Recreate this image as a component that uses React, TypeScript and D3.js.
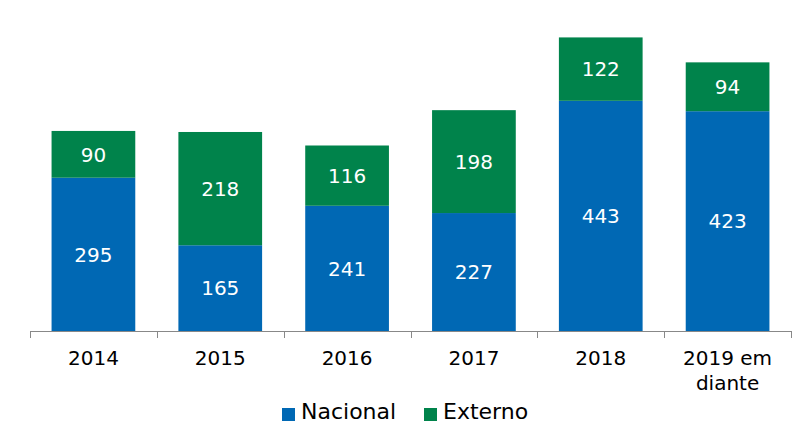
import React from "react";
import * as d3 from "d3";

const categories: string[][] = [["2014"], ["2015"], ["2016"], ["2017"], ["2018"], ["2019 em", "diante"]];
const nacional: number[] = [295, 165, 241, 227, 443, 423];
const externo: number[] = [90, 218, 116, 198, 122, 94];
const seriesNames = ["Nacional", "Externo"];
const colors = ["#0068B4", "#00834B"];

const W = 800, H = 445;
const FONT = "Verdana, 'DejaVu Sans', sans-serif";

export default function App() {
  const keys = categories.map((c) => c.join(" "));
  const x = d3.scaleBand<string>().domain(keys).range([30, 791]).paddingInner(0.34).paddingOuter(0.17);
  const y = d3.scaleLinear().domain([0, 637]).range([331, 0]);
  const rows = keys.map((k, i) => ({ key: k, Nacional: nacional[i], Externo: externo[i] }));
  const stack = d3.stack<any>().keys(seriesNames)(rows);
  const step = (791 - 30) / keys.length;
  const tickXs = d3.range(keys.length + 1).map((i) => 30 + i * step);

  return (
    <div style={{ position: "absolute", left: 0, top: 0 }}>
      <svg width={W} height={H} style={{ display: "block", background: "#fff" }}>
        {stack.map((s, si) => (
          <g key={si}>
            {s.map((d, i) => {
              const x0 = x(keys[i])!;
              const y0 = y(d[1]);
              const y1 = y(d[0]);
              return (
                <g key={i}>
                  <rect x={x0} y={y0} width={x.bandwidth()} height={y1 - y0} fill={colors[si]} />
                  <text
                    x={x0 + x.bandwidth() / 2}
                    y={(y0 + y1) / 2}
                    dy="0.36em"
                    textAnchor="middle"
                    fill="#fff"
                    fontSize={20}
                    fontFamily={FONT}
                  >
                    {d[1] - d[0]}
                  </text>
                </g>
              );
            })}
          </g>
        ))}
        <line x1={30} x2={791} y1={331.5} y2={331.5} stroke="#888" strokeWidth={1} />
        {tickXs.map((tx, i) => (
          <line key={i} x1={Math.round(tx) + 0.5} x2={Math.round(tx) + 0.5} y1={331} y2={338} stroke="#888" />
        ))}
        {categories.map((lines, i) => (
          <text key={i} textAnchor="middle" fontSize={20} fontFamily={FONT} fill="#000">
            {lines.map((l, j) => (
              <tspan key={j} x={x(keys[i])! + x.bandwidth() / 2} y={365 + j * 25}>
                {l}
              </tspan>
            ))}
          </text>
        ))}
        {seriesNames.map((n, i) => {
          const lx = [282, 424][i];
          return (
            <g key={n}>
              <rect x={lx} y={408} width={13} height={13} fill={colors[i]} />
              <text x={lx + 19} y={419} fontSize={22} fontFamily={FONT} fill="#000">
                {n}
              </text>
            </g>
          );
        })}
      </svg>
    </div>
  );
}
